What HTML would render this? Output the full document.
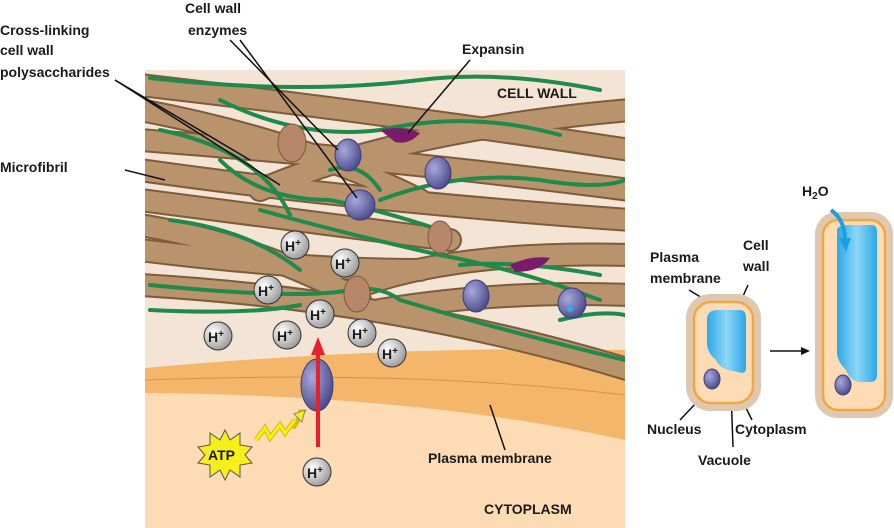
<!DOCTYPE html>
<html><head><style>body{margin:0;background:#fff}svg{display:block}text{font-family:"Liberation Sans",Arial,sans-serif;font-weight:bold;fill:#1a1a1a}</style></head><body>
<svg width="894" height="528" viewBox="0 0 894 528" xmlns="http://www.w3.org/2000/svg">
<defs>
<radialGradient id="hg" cx="0.35" cy="0.35" r="0.7"><stop offset="0" stop-color="#fff"/><stop offset="1" stop-color="#999"/></radialGradient>
<radialGradient id="pg" cx="0.35" cy="0.35" r="0.7"><stop offset="0" stop-color="#a9a9dd"/><stop offset="1" stop-color="#4a4a8a"/></radialGradient>
<linearGradient id="vg" x1="0" x2="1"><stop offset="0" stop-color="#2aa8e8"/><stop offset=".5" stop-color="#8fd6f6"/><stop offset="1" stop-color="#2aa8e8"/></linearGradient>
<clipPath id="cp"><rect x="145" y="70" width="480" height="458"/></clipPath>
</defs>
<rect x="145" y="70" width="480" height="458" fill="#f3e4d5"/>
<g clip-path="url(#cp)">
<path d="M145 368 Q400 345 625 350 L625 528 L145 528Z" fill="#f4b66a"/>
<path d="M145 393 Q420 395 625 440 L625 528 L145 528Z" fill="#fddcb5"/>
<path d="M145 380 Q420 370 625 395" stroke="#d8954a" stroke-width="1" fill="none"/>
<g stroke="#7d5c3c" stroke-width="24" fill="none" stroke-linecap="round">
<path d="M140 85 Q400 115 630 150"/><path d="M140 110 Q300 140 420 200"/><path d="M140 170 Q350 200 630 220"/>
<path d="M140 200 Q300 220 450 240"/><path d="M140 285 Q400 300 630 370"/><path d="M350 290 Q450 250 630 255"/>
<path d="M260 190 Q400 130 630 110"/><path d="M140 250 Q300 270 420 270"/><path d="M140 225 Q260 245 360 300"/>
<path d="M140 140 Q400 160 630 190"/><path d="M380 310 Q500 290 630 295"/>
</g>
<g stroke="#b8936b" stroke-width="20" fill="none" stroke-linecap="round">
<path d="M140 85 Q400 115 630 150"/><path d="M140 110 Q300 140 420 200"/><path d="M140 170 Q350 200 630 220"/>
<path d="M140 200 Q300 220 450 240"/><path d="M140 285 Q400 300 630 370"/><path d="M350 290 Q450 250 630 255"/>
<path d="M260 190 Q400 130 630 110"/><path d="M140 250 Q300 270 420 270"/><path d="M140 225 Q260 245 360 300"/>
<path d="M140 140 Q400 160 630 190"/><path d="M380 310 Q500 290 630 295"/>
</g>
<g stroke="#1f8a4c" stroke-width="4" fill="none" stroke-linecap="round">
<path d="M150 78 Q300 95 420 80 Q500 70 600 90"/><path d="M160 130 Q260 150 290 215"/><path d="M220 100 Q300 140 380 130 Q470 110 560 135"/>
<path d="M260 210 Q350 235 440 255 Q520 270 600 300"/><path d="M150 285 Q300 300 350 290 Q380 285 400 300 Q500 330 625 360"/>
<path d="M170 220 Q250 230 300 270"/><path d="M380 200 Q460 170 540 180 Q600 190 625 180"/><path d="M460 265 Q520 260 600 275"/>
<path d="M560 320 Q600 310 625 315"/><path d="M150 310 Q250 315 300 305"/><path d="M330 170 Q360 160 380 190"/>
<path d="M220 160 Q260 200 330 200 Q380 210 440 230"/>
</g>
<g fill="#b8876a" stroke="#7a5a40" stroke-width="1"><ellipse cx="292" cy="143" rx="14" ry="19"/><ellipse cx="440" cy="237" rx="12" ry="16"/><ellipse cx="357" cy="294" rx="13" ry="18"/></g>
<path d="M380 130 Q400 125 420 133 Q410 145 395 142Z" fill="#7a1a6a"/>
<path d="M510 265 Q530 255 550 258 Q540 272 515 272Z" fill="#7a1a6a"/>
<g fill="url(#pg)" stroke="#3d3d78" stroke-width="1">
<ellipse cx="348" cy="155" rx="13" ry="16"/><ellipse cx="438" cy="173" rx="13" ry="16"/><ellipse cx="360" cy="205" rx="15" ry="15"/>
<ellipse cx="476" cy="296" rx="13" ry="16"/><ellipse cx="572" cy="303" rx="14" ry="15"/>
<ellipse cx="317" cy="385" rx="16" ry="26"/></g>
<circle cx="570" cy="309" r="3" fill="#2ab0f0"/>
<g font-size="14">
<g><circle cx="295" cy="245" r="14" fill="url(#hg)" stroke="#333"/><text x="285" y="251">H<tspan font-size="10" dy="-5">+</tspan></text></g>
<g><circle cx="345" cy="263" r="14" fill="url(#hg)" stroke="#333"/><text x="335" y="269">H<tspan font-size="10" dy="-5">+</tspan></text></g>
<g><circle cx="268" cy="290" r="14" fill="url(#hg)" stroke="#333"/><text x="258" y="296">H<tspan font-size="10" dy="-5">+</tspan></text></g>
<g><circle cx="320" cy="314" r="14" fill="url(#hg)" stroke="#333"/><text x="310" y="320">H<tspan font-size="10" dy="-5">+</tspan></text></g>
<g><circle cx="218" cy="336" r="14" fill="url(#hg)" stroke="#333"/><text x="208" y="342">H<tspan font-size="10" dy="-5">+</tspan></text></g>
<g><circle cx="287" cy="335" r="14" fill="url(#hg)" stroke="#333"/><text x="277" y="341">H<tspan font-size="10" dy="-5">+</tspan></text></g>
<g><circle cx="362" cy="333" r="14" fill="url(#hg)" stroke="#333"/><text x="352" y="339">H<tspan font-size="10" dy="-5">+</tspan></text></g>
<g><circle cx="392" cy="353" r="14" fill="url(#hg)" stroke="#333"/><text x="382" y="359">H<tspan font-size="10" dy="-5">+</tspan></text></g>
<g><circle cx="317" cy="472" r="14" fill="url(#hg)" stroke="#333"/><text x="307" y="478">H<tspan font-size="10" dy="-5">+</tspan></text></g>
</g>
<line x1="318" y1="447" x2="318" y2="352" stroke="#e8202a" stroke-width="4"/>
<path d="M318 337 L311 355 L325 355Z" fill="#e8202a"/>
<path d="M225 430 L230 440 L240 433 L240 445 L252 447 L245 455 L252 463 L240 465 L240 477 L230 470 L225 480 L220 470 L210 477 L210 465 L198 463 L205 455 L198 447 L210 445 L210 433 L220 440Z" fill="#f5f01a" stroke="#555" stroke-width="1"/>
<text x="208" y="460" font-size="14">ATP</text>
<path d="M256 440 L265 428 L270 438 L280 425 L285 433 L295 420 L293 428 L303 412 L298 412" fill="none" stroke="#d4c000" stroke-width="5"/>
<path d="M256 440 L265 428 L270 438 L280 425 L285 433 L295 420" fill="none" stroke="#f5f01a" stroke-width="3"/>
<path d="M305 410 L294 414 L302 422Z" fill="#f5f01a" stroke="#888"/>
</g>
<g stroke="#111" stroke-width="1.5" fill="none">
<line x1="115" y1="80" x2="250" y2="160"/><line x1="115" y1="80" x2="280" y2="185"/>
<line x1="125" y1="170" x2="165" y2="180"/>
<line x1="230" y1="40" x2="338" y2="150"/><line x1="240" y1="40" x2="357" y2="198"/>
<line x1="470" y1="60" x2="408" y2="133"/>
<line x1="490" y1="405" x2="505" y2="450"/>
<line x1="689" y1="290" x2="712" y2="304"/><line x1="748" y1="285" x2="740" y2="303"/>
<line x1="680" y1="420" x2="712" y2="386"/><line x1="733" y1="447" x2="730" y2="362"/><line x1="752" y1="420" x2="740" y2="396"/>
<line x1="770" y1="351" x2="802" y2="351"/>
</g>
<path d="M810 351 L801 347 L801 355Z" fill="#111"/>
<g font-size="14">
<text x="0" y="35">Cross-linking</text><text x="0" y="55">cell wall</text><text x="0" y="77">polysaccharides</text>
<text x="0" y="172">Microfibril</text>
<text x="185" y="13">Cell wall</text><text x="188" y="35">enzymes</text>
<text x="462" y="54">Expansin</text>
<text x="497" y="98">CELL WALL</text>
<text x="428" y="463">Plasma membrane</text>
<text x="484" y="514">CYTOPLASM</text>
<text x="650" y="262">Plasma</text><text x="650" y="283">membrane</text>
<text x="743" y="250">Cell</text><text x="743" y="271">wall</text>
<text x="647" y="434">Nucleus</text><text x="735" y="434">Cytoplasm</text>
<text x="698" y="465">Vacuole</text>
<text x="802" y="196">H<tspan font-size="10" dy="3">2</tspan><tspan dy="-3">O</tspan></text>
</g>
<rect x="686" y="294" width="75" height="117" rx="24" fill="#e0c8b0"/>
<rect x="694" y="302" width="59" height="101" rx="17" fill="#fddcb5" stroke="#f0a840" stroke-width="2.5"/>
<path d="M707 318 Q708 310 718 310 L740 310 Q746 310 746 318 L746 368 Q746 375 738 372 L728 370 Q720 368 716 360 Q706 352 707 340Z" fill="url(#vg)"/>
<ellipse cx="712" cy="379" rx="8" ry="10" fill="url(#pg)" stroke="#3d3d78"/>
<rect x="815" y="212" width="78" height="206" rx="22" fill="#e0c8b0"/>
<rect x="823" y="220" width="62" height="190" rx="15" fill="#fddcb5" stroke="#f0a840" stroke-width="2.5"/>
<path d="M837 230 Q838 225 848 225 L872 225 Q877 225 877 232 L877 375 Q877 382 870 382 L858 382 Q850 380 846 370 Q836 360 837 350Z" fill="url(#vg)"/>
<ellipse cx="843" cy="385" rx="8" ry="10" fill="url(#pg)" stroke="#3d3d78"/>
<path d="M831 210 Q845 220 845 240" fill="none" stroke="#1ea0e0" stroke-width="4"/>
<path d="M839 238 L851 238 L846 252Z" fill="#1ea0e0"/>
</svg>
</body></html>
